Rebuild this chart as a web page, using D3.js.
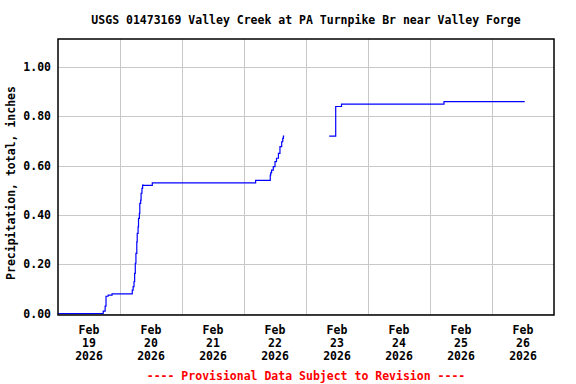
<!DOCTYPE html>
<html>
<head>
<meta charset="utf-8">
<script src="https://cdn.jsdelivr.net/npm/d3@7"></script>
<style>
  body { margin: 0; background: #fff; }
  text { font-family: "DejaVu Sans Mono", monospace; font-weight: bold; }
</style>
</head>
<body>
<svg width="576" height="384"></svg>
<script>
//  chart data
var title = "USGS 01473169 Valley Creek at PA Turnpike Br near Valley Forge";
var yLabel = "Precipitation, total, inches";
var footer = "---- Provisional Data Subject to Revision ----";

// times and cumulative precipitation; null = gap in record
var times = [
  "2026-02-19 00:00", "2026-02-19 17:30", "2026-02-19 18:15", "2026-02-19 18:35",
  "2026-02-19 19:25", "2026-02-19 20:55", "2026-02-20 04:45", "2026-02-20 05:05",
  "2026-02-20 05:25", "2026-02-20 05:40", "2026-02-20 05:55", "2026-02-20 06:10",
  "2026-02-20 06:30", "2026-02-20 06:40", "2026-02-20 07:00", "2026-02-20 07:10",
  "2026-02-20 07:30", "2026-02-20 07:40", "2026-02-20 08:00", "2026-02-20 08:10",
  "2026-02-20 08:30", "2026-02-20 08:45", "2026-02-20 09:00", "2026-02-20 12:30",
  "2026-02-22 04:30", "2026-02-22 10:10", "2026-02-22 10:20", "2026-02-22 10:40",
  "2026-02-22 11:20", "2026-02-22 12:00", "2026-02-22 12:35", "2026-02-22 13:20",
  "2026-02-22 13:55", "2026-02-22 14:35", "2026-02-22 15:00", "2026-02-22 15:15",
  "2026-02-22 15:35", "2026-02-22 15:45",
  "2026-02-23 09:00", "2026-02-23 11:30", "2026-02-23 13:45", "2026-02-25 05:25",
  "2026-02-26 12:40"
];
var values = [
  0.00, 0.01, 0.03, 0.07,
  0.075, 0.08, 0.095, 0.109,
  0.129, 0.163, 0.204, 0.244,
  0.291, 0.325, 0.352, 0.386,
  0.406, 0.447, 0.46, 0.488,
  0.508, 0.521, 0.52, 0.53,
  0.54, 0.562, 0.571, 0.582,
  0.596, 0.616, 0.63, 0.65,
  0.677, 0.697, 0.711, 0.72,
  0.72, null,
  0.72, 0.84, 0.85, 0.86,
  0.86
];
var dayTicks = ["2026-02-19", "2026-02-20", "2026-02-21", "2026-02-22",
                "2026-02-23", "2026-02-24", "2026-02-25", "2026-02-26"];
var yTicks = [0, 0.2, 0.4, 0.6, 0.8, 1.0];

//  svg selection and sizing
var svg = d3.select("svg");
var plotLeft = 58, plotRight = 554, plotTop = 39, plotBottom = 315;

var parseTime = d3.utcParse("%Y-%m-%d %H:%M");
var parseDay = d3.utcParse("%Y-%m-%d");

var data = times.map(function(t, i) { return { t: parseTime(t), v: values[i] }; });

var x = d3.scaleUtc()
  .domain([parseDay("2026-02-19"), parseDay("2026-02-27")])
  .range([plotLeft, plotRight]);
var y = d3.scaleLinear()
  .domain([-0.006, 1.114])
  .range([plotBottom, plotTop]);

//  grid lines
var grid = svg.append("g").attr("stroke", "#c8c8c8").attr("stroke-width", 1);
grid.selectAll(".vg").data(dayTicks.slice(1)).enter().append("line")
  .attr("x1", function(d) { return Math.round(x(parseDay(d))) + 0.5; })
  .attr("x2", function(d) { return Math.round(x(parseDay(d))) + 0.5; })
  .attr("y1", plotTop).attr("y2", plotBottom);
grid.selectAll(".hg").data(yTicks).enter().append("line")
  .attr("x1", plotLeft).attr("x2", plotRight)
  .attr("y1", function(d) { return Math.round(y(d)) + 0.5; })
  .attr("y2", function(d) { return Math.round(y(d)) + 0.5; });

//  data line
var line = d3.line()
  .defined(function(d) { return d.v !== null; })
  .x(function(d) { return x(d.t); })
  .y(function(d) { return y(d.v); })
  .curve(d3.curveStepAfter);

svg.append("path")
  .datum(data)
  .attr("fill", "none")
  .attr("stroke", "#0000ff")
  .attr("stroke-width", 1.2)
  .attr("d", line);

//  plot frame
svg.append("rect")
  .attr("x", plotLeft).attr("y", plotTop)
  .attr("width", plotRight - plotLeft).attr("height", plotBottom - plotTop)
  .attr("fill", "none").attr("stroke", "#000").attr("stroke-width", 1.5);

//  y tick labels
svg.append("g").selectAll("text").data(yTicks).enter().append("text")
  .attr("x", plotLeft - 7)
  .attr("y", function(d) { return y(d) + 4; })
  .attr("text-anchor", "end")
  .attr("font-size", 11.5)
  .text(function(d) { return d3.format(".2f")(d); });

//  x tick labels (centered at noon)
var fmts = [d3.utcFormat("%b"), d3.utcFormat("%d"), d3.utcFormat("%Y")];
var xl = svg.append("g").selectAll("text").data(dayTicks).enter().append("text")
  .attr("text-anchor", "middle")
  .attr("font-size", 11.5)
  .attr("transform", function(d) {
    return "translate(" + x(d3.utcHour.offset(parseDay(d), 12)) + ",0)";
  });
fmts.forEach(function(f, i) {
  xl.append("tspan")
    .attr("x", 0)
    .attr("y", 334 + i * 13)
    .text(function(d) { return f(parseDay(d)); });
});

//  titles
svg.append("text")
  .attr("x", (plotLeft + plotRight) / 2).attr("y", 24)
  .attr("text-anchor", "middle").attr("font-size", 11.5)
  .text(title);

svg.append("text")
  .attr("transform", "translate(15," + 183 + ") rotate(-90)")
  .attr("text-anchor", "middle").attr("font-size", 11.5)
  .text(yLabel);

svg.append("text")
  .attr("x", (plotLeft + plotRight) / 2).attr("y", 380)
  .attr("text-anchor", "middle").attr("font-size", 11.5)
  .attr("fill", "#ff0000")
  .text(footer);
</script>
</body>
</html>
